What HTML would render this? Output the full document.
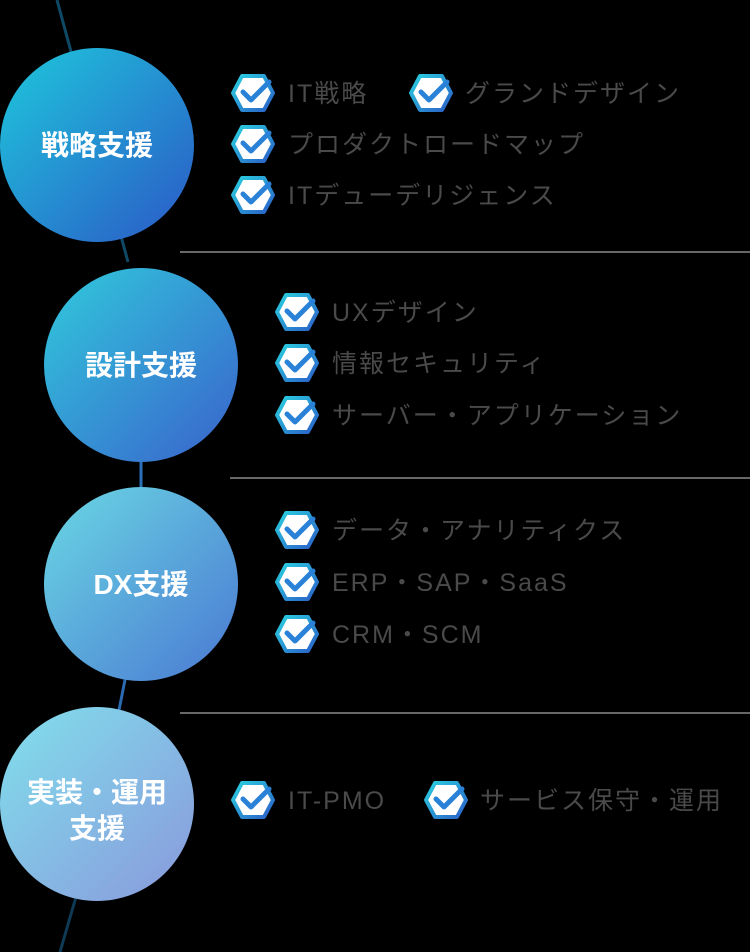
<!DOCTYPE html>
<html><head><meta charset="utf-8"><style>
html,body{margin:0;padding:0;background:#000;width:750px;height:952px;overflow:hidden}
svg{display:block}
.c{font-family:"Liberation Sans","Noto Sans CJK JP",sans-serif;font-weight:bold;fill:#fff;font-size:28px;text-anchor:middle}
.t{font-family:"Liberation Sans","Noto Sans CJK JP",sans-serif;fill:#4a4a4a;font-size:25px;letter-spacing:2px}
</style></head><body>
<svg width="750" height="952" viewBox="0 0 750 952">
<defs>
<linearGradient id="g1" x1="0" y1="0" x2="1" y2="1"><stop offset="0" stop-color="#1ec8dc"/><stop offset="1" stop-color="#2b58c6"/></linearGradient>
<linearGradient id="g2" x1="0" y1="0" x2="1" y2="1"><stop offset="0" stop-color="#30cadc"/><stop offset="1" stop-color="#3a62cc"/></linearGradient>
<linearGradient id="g3" x1="0" y1="0" x2="1" y2="1"><stop offset="0" stop-color="#6ad8e4"/><stop offset="1" stop-color="#4a78d2"/></linearGradient>
<linearGradient id="g4" x1="0" y1="0" x2="1" y2="1"><stop offset="0" stop-color="#80e0ec"/><stop offset="1" stop-color="#8a98dc"/></linearGradient>
<linearGradient id="hs" x1="0" y1="0" x2="1" y2="1"><stop offset="0" stop-color="#2ad0e0"/><stop offset="1" stop-color="#2a5fc8"/></linearGradient>
<g id="ic">
<polygon points="1,18 10,1 32,1 41,18 32,35 10,35" fill="#fff" stroke="url(#hs)" stroke-width="4" stroke-linejoin="round"/>
<polyline points="11,17 19,25 37,7" fill="none" stroke="#2a82d8" stroke-width="5" stroke-linecap="round" stroke-linejoin="round"/>
</g>
</defs>
<g stroke-width="3" fill="none">
<line x1="57" y1="0" x2="128" y2="262" stroke="#0e4a66"/>
<line x1="141" y1="455" x2="141" y2="495" stroke="#2a70b8"/>
<line x1="126" y1="675" x2="118" y2="715" stroke="#2a6ab0"/>
<line x1="78" y1="890" x2="60" y2="952" stroke="#0e3a55"/>
</g>
<g stroke="#8a8a8a" stroke-width="1.5">
<line x1="180" y1="252" x2="750" y2="252"/>
<line x1="230" y1="478" x2="750" y2="478"/>
<line x1="180" y1="713" x2="750" y2="713"/>
</g>
<circle cx="97" cy="145" r="97" fill="url(#g1)"/>
<circle cx="141" cy="365" r="97" fill="url(#g2)"/>
<circle cx="141" cy="584" r="97" fill="url(#g3)"/>
<circle cx="97" cy="804" r="97" fill="url(#g4)"/>
<text class="c" x="97" y="155">戦略支援</text>
<text class="c" x="141" y="375">設計支援</text>
<text class="c" x="141" y="594">DX支援</text>
<text class="c" x="97" y="802">実装・運用</text>
<text class="c" x="97" y="838">支援</text>

<use href="#ic" x="232" y="75"/><text class="t" x="288" y="102">IT戦略</text>
<use href="#ic" x="410" y="75"/><text class="t" x="465" y="102">グランドデザイン</text>
<use href="#ic" x="232" y="126"/><text class="t" x="288" y="153">プロダクトロードマップ</text>
<use href="#ic" x="232" y="177"/><text class="t" x="288" y="204">ITデューデリジェンス</text>

<use href="#ic" x="276" y="294"/><text class="t" x="332" y="321">UXデザイン</text>
<use href="#ic" x="276" y="345"/><text class="t" x="332" y="372">情報セキュリティ</text>
<use href="#ic" x="276" y="397"/><text class="t" x="332" y="424">サーバー・アプリケーション</text>

<use href="#ic" x="276" y="512"/><text class="t" x="332" y="539">データ・アナリティクス</text>
<use href="#ic" x="276" y="564"/><text class="t" x="332" y="591">ERP・SAP・SaaS</text>
<use href="#ic" x="276" y="616"/><text class="t" x="332" y="643">CRM・SCM</text>

<use href="#ic" x="232" y="782"/><text class="t" x="288" y="809">IT-PMO</text>
<use href="#ic" x="425" y="782"/><text class="t" x="480" y="809">サービス保守・運用</text>
</svg>
</body></html>
